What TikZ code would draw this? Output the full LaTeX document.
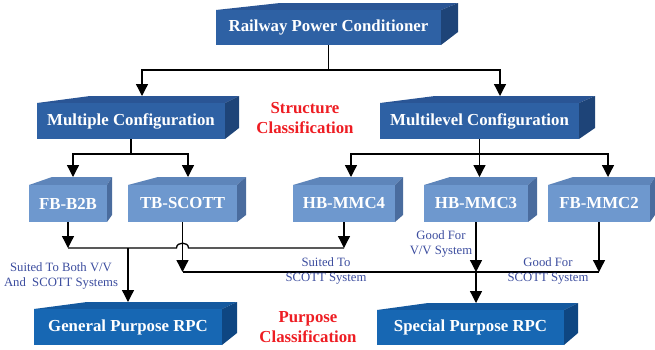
\documentclass[tikz,border=0pt]{standalone}
\usepackage{fontspec}
\setmainfont{Liberation Serif}
\usetikzlibrary{arrows.meta,fit,calc}
\definecolor{lvf}{HTML}{2E61A4}
\definecolor{lvt}{HTML}{2A5595}
\definecolor{lvs}{HTML}{1E4478}
\definecolor{ltf}{HTML}{6E98CE}
\definecolor{ltt}{HTML}{5E85BA}
\definecolor{lts}{HTML}{4A6C9E}
\definecolor{btf}{HTML}{1767B3}
\definecolor{btt}{HTML}{14599F}
\definecolor{bts}{HTML}{0E4682}
\definecolor{lblblue}{HTML}{3B4C9E}
\definecolor{lblred}{HTML}{EE1D23}
\newcommand\cubebox[7]{%
 \coordinate (#1-nw) at (#4);
 \coordinate (#1-se) at (#5);
 \coordinate (#1-bl) at (#6);
 \coordinate (#1-bb) at (#7);
 \coordinate (#1-ne) at (#1-se |- #1-nw);
 \coordinate (#1-bt) at (#1-bb |- #1-bl);
 \fill[#2top] (#1-nw) -- (#1-bl) -- (#1-bt) -- (#1-ne) -- cycle;
 \fill[#2side] (#1-ne) -- (#1-bt) -- (#1-bb) -- (#1-se) -- cycle;
 \node[#2front, fit=(#1-nw)(#1-se), label={[boxtext]center:#3}] (#1) {};
}
\tikzset{
 boxtext/.style={inner sep=0pt, text=white, font=\fontsize{16.8}{18}\selectfont\bfseries},
 boxface/.style={inner sep=0pt},
 lvfront/.style={boxface, fill=lvf}, lvtop/.style={fill=lvt}, lvside/.style={fill=lvs},
 ltfront/.style={boxface, fill=ltf}, lttop/.style={fill=ltt}, ltside/.style={fill=lts},
 btfront/.style={boxface, fill=btf}, bttop/.style={fill=btt}, btside/.style={fill=bts},
 conn/.style={draw=black, line width=1.3pt},
 arr/.style={conn, -{Triangle[width=12pt,length=12pt]}},
 lbl/.style={align=center, text=lblblue, inner sep=0pt, font=\fontsize{12.7}{15}\selectfont},
 redlbl/.style={align=center, text=lblred, inner sep=0pt, font=\fontsize{16.8}{20}\selectfont\bfseries}
}
\begin{document}
\begin{tikzpicture}[x=1pt,y=-1pt]
\useasboundingbox (0,0) rectangle (655,349);
\cubebox{rpc}{lv}{Railway Power Conditioner}{216,10}{441,45}{280,3}{458,32}
\cubebox{multi}{lv}{Multiple Configuration}{37,103}{225,139}{90,96}{239,128}
\cubebox{mlev}{lv}{Multilevel Configuration}{380,103}{579,139}{435,96}{595,128}
\cubebox{fbb}{lt}{FB-B2B}{29,185}{107,222}{52,177}{112,215}
\cubebox{tbs}{lt}{TB-SCOTT}{128,185}{237,222}{158,177}{246,215}
\cubebox{hbf}{lt}{HB-MMC4}{293,185}{395,222}{320,177}{403,215}
\cubebox{hbt}{lt}{HB-MMC3}{424,185}{528,222}{450,177}{537,215}
\cubebox{fbm}{lt}{FB-MMC2}{548,185}{650,222}{573,177}{655,215}
\cubebox{gen}{bt}{General Purpose RPC}{34,309}{222,345}{87,302}{237,333}
\cubebox{spec}{bt}{Special Purpose RPC}{377,310}{564,345}{428,303}{578,333}
% level 1
\coordinate (j1) at (328.5,70);
\coordinate (multi-in) at (142,96);
\coordinate (mlev-in) at (500,96);
\draw[conn] (rpc.south) -- (j1);
\draw[arr] (j1) -| (multi-in);
\draw[arr] (j1) -| (mlev-in);
% level 2
\coordinate (j2) at (131,154);
\coordinate (fbb-in) at (73,177);
\coordinate (tbs-in) at (188,177);
\draw[conn] (multi.south) -- (j2);
\draw[arr] (j2) -| (fbb-in);
\draw[arr] (j2) -| (tbs-in);
\coordinate (j3) at (479.5,154);
\coordinate (hbf-in) at (351,177);
\coordinate (hbt-in) at (479.5,177);
\coordinate (fbm-in) at (608,177);
\draw[conn] (mlev.south) -- (j3);
\draw[arr] (j3) -| (hbf-in);
\draw[arr] (j3) -- (hbt-in);
\draw[arr] (j3) -| (fbm-in);
% general purpose
\coordinate (ga) at (68,248);
\coordinate (gb) at (344,248);
\coordinate (hopl) at (176.5,248);
\coordinate (hopr) at (188.5,248);
\coordinate (gj) at (128,248);
\coordinate (gen-in) at (128,302);
\draw[arr] (fbb.south) -- (ga);
\draw[arr] (hbf.south) -- (gb);
\draw[conn] (ga) -- (hopl) .. controls (176.5,241.5) and (188.5,241.5) .. (hopr) -- (gb);
\draw[arr] (gj) -- (gen-in);
% special purpose
\coordinate (sa) at (182.5,272);
\coordinate (sb) at (476,272);
\coordinate (sc) at (599,272);
\coordinate (spec-in) at (476,303);
\draw[arr] (tbs.south) -- (sa);
\draw[arr] (hbt.south) -- (sb);
\draw[arr] (fbm.south) -- (sc);
\draw[conn] (sa) -- (sc);
\draw[arr] (sb) -- (spec-in);
% labels
\node[lbl] (l1) at (61,275.5) {Suited To Both V/V\\And\ \ SCOTT Systems};
\node[lbl] (l2) at (326,271) {Suited To\\SCOTT System};
\node[lbl] (l3) at (441,243.5) {Good For\\V/V System};
\node[lbl] (l4) at (548,271) {Good For\\SCOTT System};
\node[redlbl] (r1) at (305,118) {Structure\\Classification};
\node[redlbl] (r2) at (308,327.5) {Purpose\\Classification};
\end{tikzpicture}
\end{document}
